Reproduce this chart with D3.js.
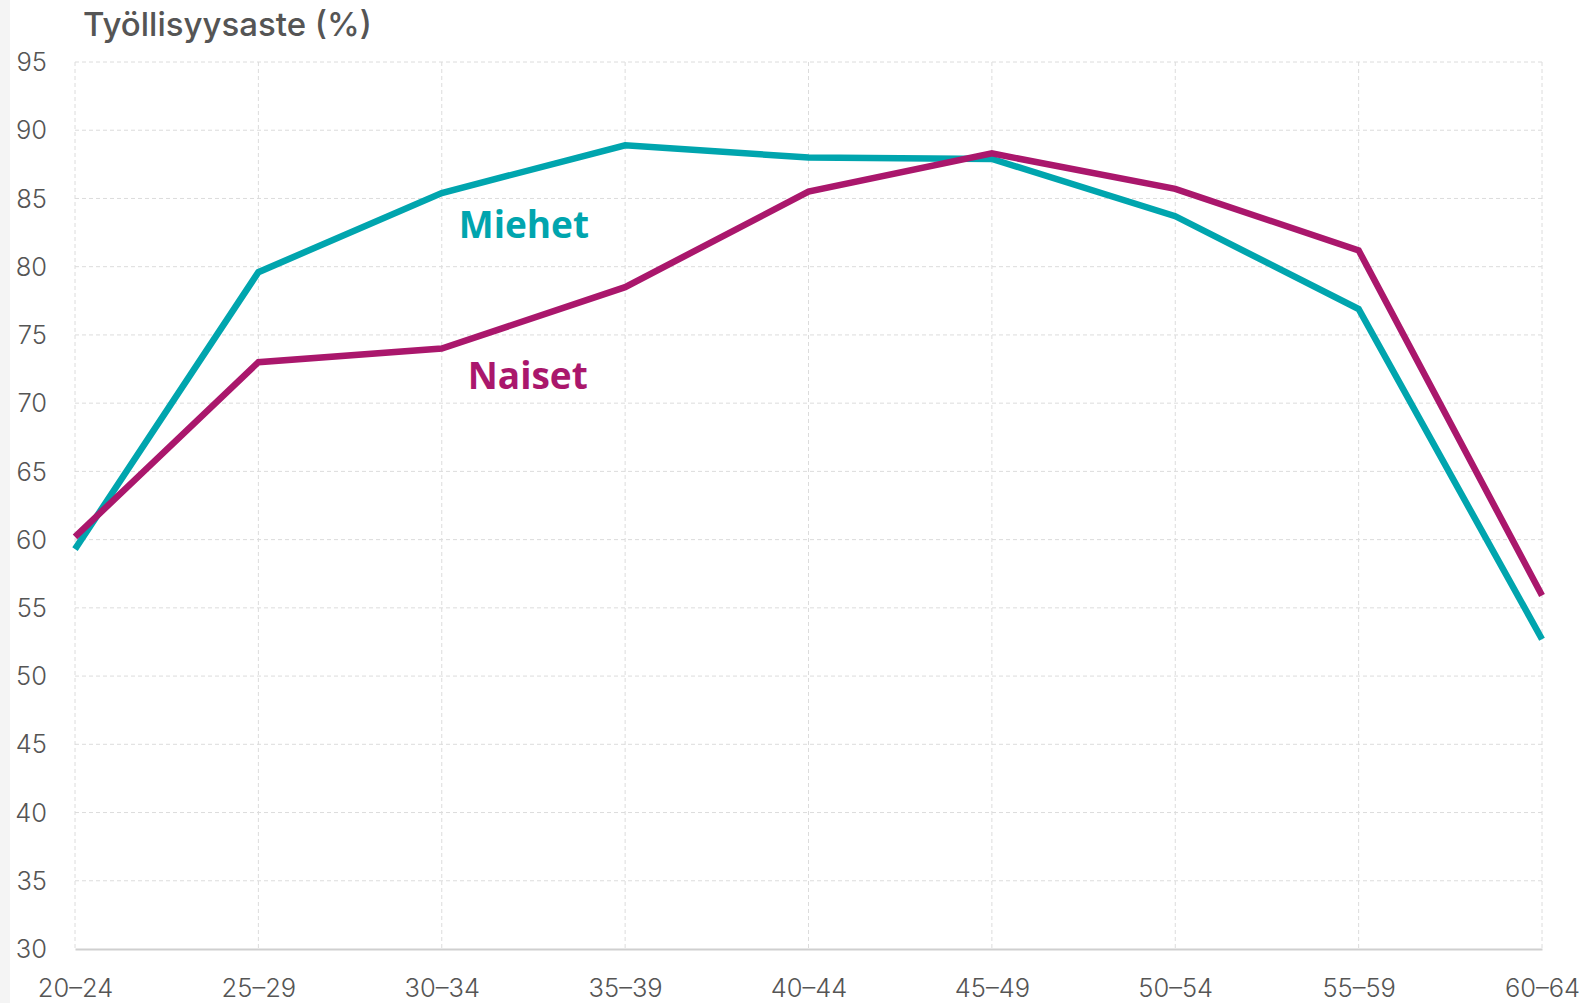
<!DOCTYPE html>
<html>
<head>
<meta charset="utf-8">
<script src="https://cdn.jsdelivr.net/npm/d3@7"></script>
<style>
  body { margin: 0; background: #fff; }
  svg { display: block; }
  .grid line { stroke: #dcdcdc; stroke-dasharray: 4,3; stroke-width: 1; }
  .tick-label { font-family: Inter, sans-serif; font-size: 25.5px; font-weight: 300; fill: #555; }
</style>
</head>
<body>
<div id="chart"></div>
<script>
const ageGroups = ['20–24', '25–29', '30–34', '35–39', '40–44', '45–49', '50–54', '55–59', '60–64'];
const miehet = [59.3, 79.6, 85.4, 88.9, 88.0, 87.9, 83.7, 76.9, 52.7];
const naiset = [60.2, 73.0, 74.0, 78.5, 85.5, 88.3, 85.7, 81.2, 55.9];
const yTicks = [30, 35, 40, 45, 50, 55, 60, 65, 70, 75, 80, 85, 90, 95];

const series = [
    {name: 'Miehet', values: miehet, color: '#00a5ae', labelAt: 2, labelDx: 17, labelDy: 32},
    {name: 'Naiset', values: naiset, color: '#aa176c', labelAt: 2, labelDx: 26, labelDy: 27}
];

const W = 1588, H = 1003;
const margin = {top: 62, right: 46, bottom: 54, left: 75};
const width = W - margin.left - margin.right;
const height = H - margin.top - margin.bottom;

const svg = d3.select('#chart').append('svg')
    .attr('width', W)
    .attr('height', H);

// light strip on the left edge
svg.append('rect')
    .attr('x', 0).attr('y', 0)
    .attr('width', 10).attr('height', H)
    .attr('fill', '#f4f4f4');

svg.append('text')
    .attr('x', 83)
    .attr('y', 36)
    .style('font-family', 'Inter, sans-serif')
    .style('font-size', '33px')
    .style('font-weight', 500)
    .style('fill', '#555')
    .text('Työllisyysaste (%)');

const g = svg.append('g')
    .attr('transform', 'translate(' + margin.left + ',' + margin.top + ')');

const x = d3.scalePoint()
    .domain(ageGroups)
    .range([0, width]);
const y = d3.scaleLinear()
    .domain([30, 95])
    .range([height, 0]);

// grid
const grid = g.append('g').attr('class', 'grid');
grid.selectAll('.hline')
    .data(yTicks.filter((d) => { return d > 30 }))
    .enter()
  .append('line')
    .attr('x1', 0).attr('x2', width)
    .attr('y1', (d) => { return y(d) })
    .attr('y2', (d) => { return y(d) });
grid.selectAll('.vline')
    .data(ageGroups)
    .enter()
  .append('line')
    .attr('x1', (d) => { return x(d) })
    .attr('x2', (d) => { return x(d) })
    .attr('y1', 0).attr('y2', height);

// axes
const yAxis = g.append('g')
    .call(d3.axisLeft(y).tickValues(yTicks).tickSize(0).tickPadding(28));
yAxis.select('.domain').remove();
yAxis.selectAll('text')
    .attr('class', 'tick-label')
    .attr('dy', '0.34em');

const xAxis = g.append('g')
    .attr('transform', 'translate(0,' + height + ')')
    .call(d3.axisBottom(x).tickSize(0).tickPadding(39));
xAxis.select('.domain')
    .attr('stroke', '#cfcfcf')
    .attr('stroke-width', 2);
xAxis.selectAll('text')
    .attr('class', 'tick-label')
    .attr('dy', '0.34em');

// lines
const line = d3.line()
    .x((d, i) => { return x(ageGroups[i]) })
    .y((d) => { return y(d) });

g.selectAll('.series')
    .data(series)
    .enter()
  .append('path')
    .attr('class', 'series')
    .attr('fill', 'none')
    .attr('stroke', (d) => { return d.color })
    .attr('stroke-width', 6.5)
    .attr('stroke-linejoin', 'miter')
    .attr('d', (d) => { return line(d.values) });

// series labels
g.selectAll('.series-label')
    .data(series)
    .enter()
  .append('text')
    .attr('class', 'series-label')
    .attr('x', (d) => { return x(ageGroups[d.labelAt]) + d.labelDx })
    .attr('y', (d) => { return y(d.values[d.labelAt]) + d.labelDy })
    .attr('dy', '0.35em')
    .style('font-family', "'Open Sans', sans-serif")
    .style('font-size', '37px')
    .style('font-weight', 700)
    .style('fill', (d) => { return d.color })
    .text((d) => { return d.name });
</script>
</body>
</html>
